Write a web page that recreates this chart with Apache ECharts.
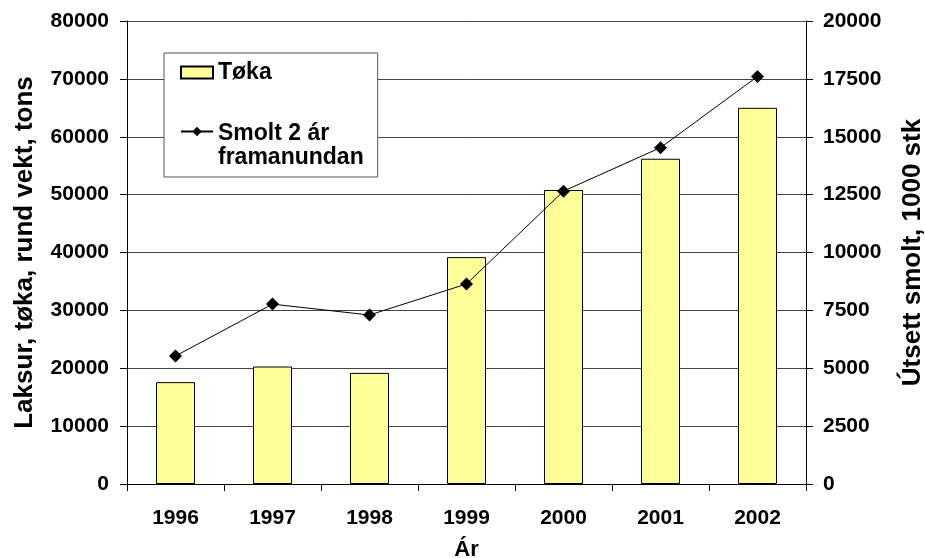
<!DOCTYPE html>
<html>
<head>
<meta charset="utf-8">
<script src="https://cdn.jsdelivr.net/npm/echarts@6/dist/echarts.min.js"></script>
<style>
  html, body { margin: 0; padding: 0; background: #fff; }
  #chart { width: 925px; height: 558px; }
</style>
</head>
<body>
<div id="chart"></div>
<script>
// data
var years = ['1996', '1997', '1998', '1999', '2000', '2001', '2002'];
var tokaValues = [17600, 20300, 19200, 39200, 50800, 56200, 65000];
var smoltValues = [5530, 7770, 7300, 8640, 12650, 14530, 17600];

var tokaName = 'Tøka';
var smoltName = 'Smolt 2 ár framanundan';

var font = '"Liberation Sans", Arial, sans-serif';
var labelStyle = { fontFamily: font, fontWeight: 'bold', fontSize: 21, color: '#000' };
var nameStyle = { fontFamily: font, fontWeight: 'bold', fontSize: 26, color: '#000' };

function plain(v) { return String(v); }

var chart = echarts.init(document.getElementById('chart'));
var option = {
  backgroundColor: '#fff',
  animation: false,
  grid: { left: 127, right: 119, top: 21, bottom: 74, containLabel: false, outerBoundsMode: 'none' },
  legend: {
    orient: 'vertical',
    left: 164,
    top: 53,
    padding: [7, 14, 7, 16],
    itemGap: 8,
    itemWidth: 32,
    itemHeight: 12,
    backgroundColor: '#fff',
    borderColor: '#555',
    borderWidth: 1,
    textStyle: {
      fontFamily: font, fontWeight: 'bold', fontSize: 23, color: '#000', lineHeight: 25,
      rich: {
        first: { fontFamily: font, fontWeight: 'bold', fontSize: 23, lineHeight: 52, verticalAlign: 'bottom' },
        second: { fontFamily: font, fontWeight: 'bold', fontSize: 23, lineHeight: 25 }
      }
    },
    formatter: function (name) {
      // icon sits beside the first line, as in the picture
      return name === smoltName ? '{first|Smolt 2 ár}\n{second|framanundan}' : name;
    },
    data: [
      { name: tokaName, icon: 'rect' },
      { name: smoltName }
    ]
  },
  xAxis: {
    type: 'category',
    data: years,
    name: 'Ár',
    nameLocation: 'middle',
    nameGap: 55,
    nameTextStyle: Object.assign({}, nameStyle, { fontSize: 22 }),
    axisLine: { lineStyle: { color: '#000', width: 1 } },
    axisTick: { show: true, inside: false, length: 7, alignWithLabel: false, lineStyle: { color: '#000' } },
    axisLabel: Object.assign({ margin: 24 }, labelStyle),
    splitLine: { show: false }
  },
  yAxis: [
    {
      type: 'value',
      min: 0,
      max: 80000,
      interval: 10000,
      name: 'Laksur, tøka, rund vekt, tons',
      nameLocation: 'middle',
      nameRotate: 90,
      nameGap: 89,
      nameTextStyle: nameStyle,
      axisLine: { show: true, lineStyle: { color: '#000' } },
      axisTick: { show: true, length: 7, lineStyle: { color: '#000' } },
      axisLabel: Object.assign({ margin: 18, formatter: plain }, labelStyle),
      splitLine: { show: true, lineStyle: { color: '#444', width: 1 } }
    },
    {
      type: 'value',
      min: 0,
      max: 20000,
      interval: 2500,
      name: 'Útsett smolt, 1000 stk',
      nameLocation: 'middle',
      nameRotate: 90,
      nameGap: 94,
      nameTextStyle: nameStyle,
      position: 'right',
      axisLine: { show: true, lineStyle: { color: '#000' } },
      axisTick: { show: true, length: 7, lineStyle: { color: '#000' } },
      axisLabel: Object.assign({ margin: 17, formatter: plain }, labelStyle),
      splitLine: { show: false }
    }
  ],
  series: [
    {
      name: tokaName,
      type: 'bar',
      yAxisIndex: 0,
      data: tokaValues,
      barWidth: 39,
      itemStyle: { color: '#ffff99', borderColor: '#000', borderWidth: 1 }
    },
    {
      name: smoltName,
      type: 'line',
      yAxisIndex: 1,
      data: smoltValues,
      symbol: 'diamond',
      symbolSize: 13,
      lineStyle: { color: '#000', width: 1 },
      itemStyle: { color: '#000' }
    }
  ]
};
chart.setOption(option);
</script>
</body>
</html>
